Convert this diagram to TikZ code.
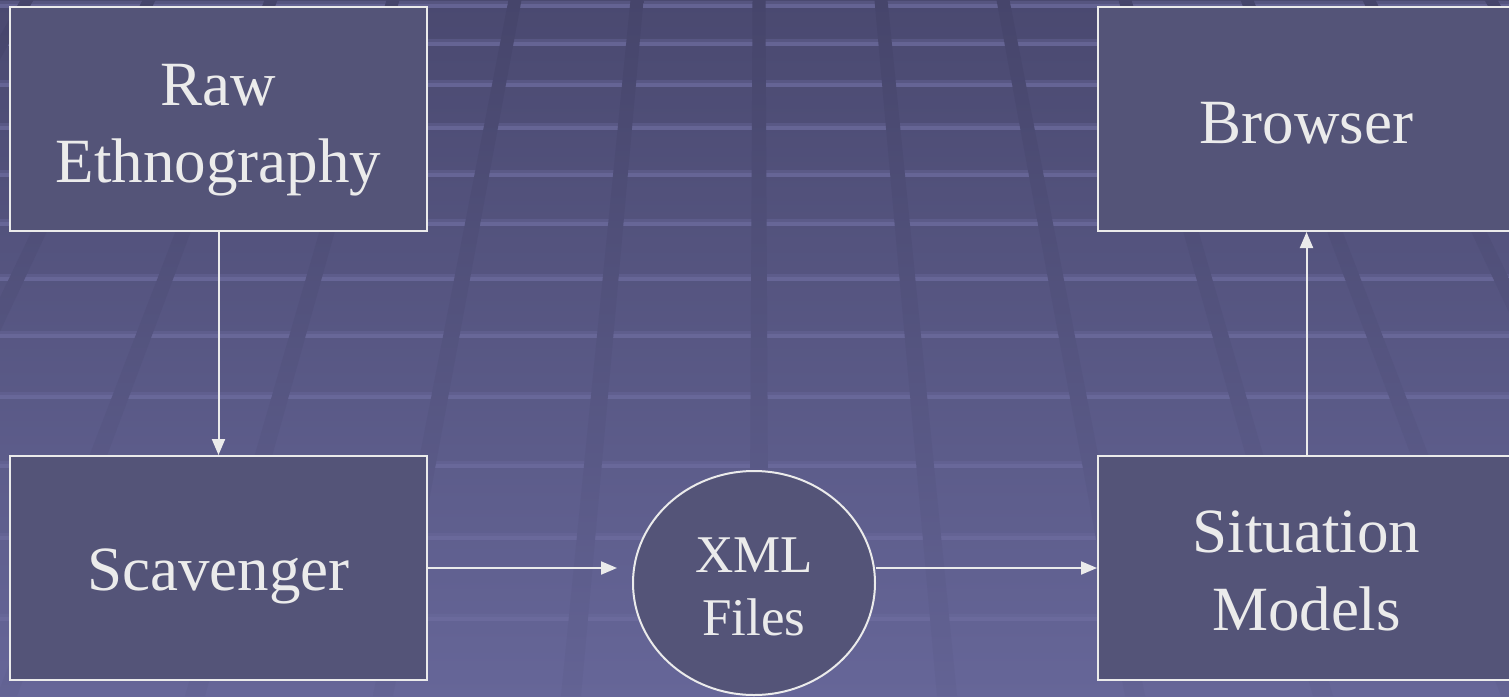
\documentclass[tikz,border=0pt]{standalone}
\usepackage{fontspec}
\setmainfont{Liberation Serif}
\newfontfamily\tnr{Liberation Serif}
\usetikzlibrary{arrows.meta,shapes.geometric}
\definecolor{boxfill}{HTML}{545478}
\definecolor{ink}{HTML}{EBEBEB}
\definecolor{bgtop}{HTML}{4A4970}
\definecolor{bgbot}{HTML}{666698}
\definecolor{stripe}{HTML}{6E6DA0}
\definecolor{ltop}{HTML}{46456B}
\definecolor{lbot}{HTML}{636394}
\begin{document}
\begin{tikzpicture}[x=1pt,y=-1pt,
  blk/.style={draw=ink, line width=2pt, fill=boxfill, inner sep=0pt, minimum width=417pt, minimum height=224pt},
  oval/.style={ellipse, draw=ink, line width=2pt, fill=boxfill, inner sep=0pt, minimum width=242pt, minimum height=224pt},
  txt/.style={text=ink, inner sep=0pt, anchor=base, font=\tnr\fontsize{63}{76}\selectfont},
  stxt/.style={text=ink, inner sep=0pt, anchor=base, font=\tnr\fontsize{53}{63}\selectfont},
  conn/.style={draw=ink, line width=2pt, -{Triangle[length=16pt,width=13pt]}},
]
\useasboundingbox (0,0) rectangle (1509,696);
% background
\begin{scope}
\clip (0,0) rectangle (1509,696);
\shade[top color=bgtop, bottom color=bgbot] (0,0) rectangle (1509,696);
\foreach \y in {5,43,84,127,174,223,278,335,396,465,537,618,704} {
  \fill[stripe, opacity=0.75] (0,\y-1) rectangle (1509,\y+3);
  \fill[stripe, opacity=0.35] (0,\y-4) rectangle (1509,\y-1);
}
\foreach \k in {-8,...,8} {
  \shade[top color=ltop, bottom color=lbot]
    ({759+\k*122-6.5},0) -- ({759+\k*122+6.5},0) -- ({759+\k*188+10},696) -- ({759+\k*188-10},696) -- cycle;
}
\end{scope}
% nodes
\node[blk] (raw) at (218.5,119) {};
\node[blk] (brow) at (1306.5,119) {};
\node[blk] (scav) at (218.5,568) {};
\node[blk] (sit) at (1306.5,568) {};
\node[oval] (xml) at (754,583) {};
\node[txt] (rawt1) at (218.5,105) {Raw};
\node[txt] (rawt2) at (218.5,182) {Ethnography};
\node[txt] (browt) at (1306.5,143) {Browser};
\node[txt] (scavt) at (218.5,590) {Scavenger};
\node[txt] (sitt1) at (1306.5,552) {Situation};
\node[txt] (sitt2) at (1306.5,630) {Models};
\node[stxt] (xmlt1) at (754,572) {XML};
\node[stxt] (xmlt2) at (754,635) {Files};
% connectors
\draw[conn] (raw) -- (scav);
\draw[conn, shorten >=15pt] (scav.east) -- (scav.east -| xml.west);
\draw[conn] (sit.west -| xml.east) -- (sit.west);
\draw[conn] (sit) -- (brow);
\end{tikzpicture}
\end{document}
